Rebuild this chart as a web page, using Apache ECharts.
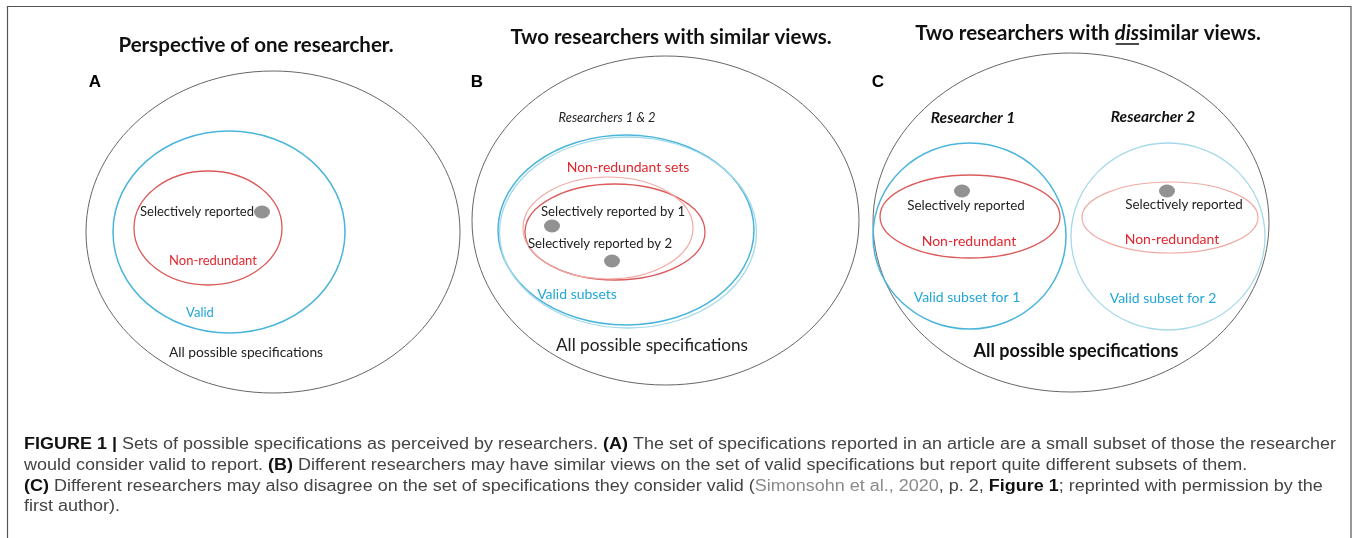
<!DOCTYPE html>
<html>
<head>
<meta charset="utf-8">
<script src="https://cdn.jsdelivr.net/npm/echarts@6/dist/echarts.min.js"></script>
<style>
html,body{margin:0;padding:0;background:#fff;}
#chart{width:1357px;height:538px;}
</style>
</head>
<body>
<div id="chart"></div>
<script>
// ---- data (figure units: x 0..1357, y 0..538, y downward) ----
// ellipses: [centerX, centerY, radiusX, radiusY]
const allSpecifications = [[273, 232, 187, 161], [665.5, 220.5, 193.5, 164.5], [1071, 222.5, 198, 169.5]];
const validSets        = [[229, 232, 116, 101], [626, 230, 128, 95], [969.5, 236, 96.5, 93]];
const validSetsOther   = [[628, 232.5, 128.5, 95.5], [1168, 236.5, 97, 93.5]];
const nonRedundant     = [[208, 228, 74, 57], [615, 232, 90, 48], [970, 216.5, 90, 41.5]];
const nonRedundantOther= [[608, 228, 85, 51], [1170, 217.5, 88, 35.5]];
const reportedPoints   = [[262, 212], [552, 226], [612, 261], [962, 191], [1167, 191]];

const panelLetters = ['A', 'B', 'C'];
const panelTitles = ['Perspective of one researcher.', 'Two researchers with similar views.', ['Two researchers with ', 'dis', 'similar views.']];
const captionLines = [
  [['b', 'FIGURE 1 |'], ['r', ' Sets of possible specifications as perceived by researchers. '], ['b', '(A)'], ['r', ' The set of specifications reported in an article are a small subset of those the researcher']],
  [['r', 'would consider valid to report. '], ['b', '(B)'], ['r', ' Different researchers may have similar views on the set of valid specifications but report quite different subsets of them.']],
  [['b', '(C)'], ['r', ' Different researchers may also disagree on the set of specifications they consider valid ('], ['g', 'Simonsohn et al., 2020'], ['r', ', p. 2, '], ['b', 'Figure 1'], ['r', '; reprinted with permission by the']],
  [['r', 'first author).']]
];

// ---- rendering ----
const chart = echarts.init(document.getElementById('chart'), null, {renderer: 'canvas'});
const DIAG = 'Lato, "Open Sans", sans-serif';
const CAP = '"Liberation Sans Narrow", "Liberation Sans", Arial, sans-serif';
const cvs = document.createElement('canvas').getContext('2d');
function tw(font, t) { cvs.font = font; return cvs.measureText(t).width; }

function ellipseSeries(name, data, color, width) {
  return {
    type: 'custom', name: name, data: data, silent: true, z: 2,
    renderItem: function (params, api) {
      const c = api.coord([api.value(0), api.value(1)]);
      const s = api.size([api.value(2), api.value(3)]);
      return {type: 'ellipse', shape: {cx: c[0], cy: c[1], rx: s[0], ry: s[1]},
              style: {fill: 'none', stroke: color, lineWidth: width}};
    }
  };
}

const G = [];
// frame
G.push({type: 'rect', shape: {x: 7.5, y: 6.5, width: 1343.5, height: 540}, style: {fill: 'none', stroke: '#555', lineWidth: 1.2}, z: 1});

function label(text, x, y, size, color, extra) {
  G.push({type: 'text', x: x, y: y, z: 10, style: Object.assign({
    text: text, fontFamily: DIAG, fontSize: size, fill: color, align: 'center', verticalAlign: 'middle'}, extra || {})});
}
// titles
const TS = 20.5;
label(panelTitles[0], 256, 45, TS, '#111', {fontWeight: 'bold'});
label(panelTitles[1], 671, 37, TS, '#111', {fontWeight: 'bold'});
(function () {
  const t = panelTitles[2];
  const fb = 'bold ' + TS + 'px ' + DIAG, fi = 'italic bold ' + TS + 'px ' + DIAG;
  const w0 = tw(fb, t[0]), w1 = tw(fi, t[1]), w2 = tw(fb, t[2]);
  const start = 1088 - (w0 + w1 + w2) / 2;
  G.push({type: 'text', x: start, y: 33, z: 10, style: {
    text: '{n|' + t[0] + '}{i|' + t[1] + '}{n|' + t[2] + '}', align: 'left', verticalAlign: 'middle',
    rich: {n: {fontFamily: DIAG, fontSize: TS, fontWeight: 'bold', fill: '#111'},
           i: {fontFamily: DIAG, fontSize: TS, fontWeight: 'bold', fontStyle: 'italic', fill: '#111'}}}});
  G.push({type: 'line', z: 10, shape: {x1: start + w0 + 1, y1: 44, x2: start + w0 + w1, y2: 44}, style: {stroke: '#111', lineWidth: 1.5}});
})();
// panel letters
[[95, 82], [477, 82], [878, 82]].forEach(function (p, i) {
  label(panelLetters[i], p[0], p[1], 17, '#000', {fontFamily: '"Liberation Sans", Arial, sans-serif', fontWeight: 'bold'});
});
const BLK = '#222', RED = '#e3262e', BLU = '#22a6d8';
// panel A
label('Selectively reported', 197, 212, 13, BLK);
label('Non-redundant', 213, 261, 13, RED);
label('Valid', 200, 313, 13, BLU);
label('All possible specifications', 246, 353, 13.8, BLK);
// panel B
label('Researchers 1 & 2', 607, 118, 13, BLK, {fontStyle: 'italic'});
label('Non-redundant sets', 628, 167, 14, RED);
label('Selectively reported by 1', 613, 212, 13.2, BLK);
label('Selectively reported by 2', 600, 244, 13.2, BLK);
label('Valid subsets', 577, 294, 14, BLU);
label('All possible specifications', 652, 345, 17.2, BLK);
// panel C
label('Researcher 1', 973, 118, 15.5, '#111', {fontStyle: 'italic', fontWeight: 'bold'});
label('Researcher 2', 1153, 117, 15.5, '#111', {fontStyle: 'italic', fontWeight: 'bold'});
label('Selectively reported', 966, 206, 13.4, BLK);
label('Selectively reported', 1184, 205, 13.4, BLK);
label('Non-redundant', 969, 241, 14, RED);
label('Non-redundant', 1172, 239, 14, RED);
label('Valid subset for 1', 967, 297, 14, BLU);
label('Valid subset for 2', 1163, 298, 14, BLU);
label('All possible specifications', 1076, 351, 18, '#111', {fontWeight: 'bold'});

// caption
(function () {
  const size = 16;
  const fonts = {r: size + 'px ' + CAP, b: 'bold ' + size + 'px ' + CAP, g: size + 'px ' + CAP};
  let w = 0;
  captionLines[0].forEach(function (s) { w += tw(fonts[s[0]], s[1]); });
  const sx = 1312 / w;
  const rich = {
    r: {fontFamily: CAP, fontSize: size, fill: '#444'},
    b: {fontFamily: CAP, fontSize: size, fontWeight: 'bold', fill: '#111'},
    g: {fontFamily: CAP, fontSize: size, fill: '#8a8a8a'}
  };
  const ys = [445, 466, 487, 507];
  captionLines.forEach(function (line, i) {
    const txt = line.map(function (s) { return '{' + s[0] + '|' + s[1] + '}'; }).join('');
    G.push({type: 'text', x: 24, y: ys[i], scaleX: sx, z: 10, style: {text: txt, rich: rich, align: 'left', verticalAlign: 'middle'}});
  });
})();

chart.setOption({
  animation: false,
  backgroundColor: '#fff',
  grid: {left: 0, right: 0, top: 0, bottom: 0},
  xAxis: {type: 'value', min: 0, max: 1357, show: false},
  yAxis: {type: 'value', min: 0, max: 538, inverse: true, show: false},
  series: [
    ellipseSeries('All possible specifications', allSpecifications, '#666', 1),
    ellipseSeries('Valid', validSets, '#4ab5db', 1.5),
    ellipseSeries('Valid (other)', validSetsOther, '#a6d9ea', 1.3),
    ellipseSeries('Non-redundant', nonRedundant, '#dc5a5a', 1.3),
    ellipseSeries('Non-redundant (other)', nonRedundantOther, '#f0aaa4', 1.2),
    {type: 'scatter', name: 'Selectively reported', data: reportedPoints, symbol: 'circle', symbolSize: [16, 13],
     itemStyle: {color: '#777'}, silent: true, z: 3}
  ],
  graphic: G
});
</script>
</body>
</html>
